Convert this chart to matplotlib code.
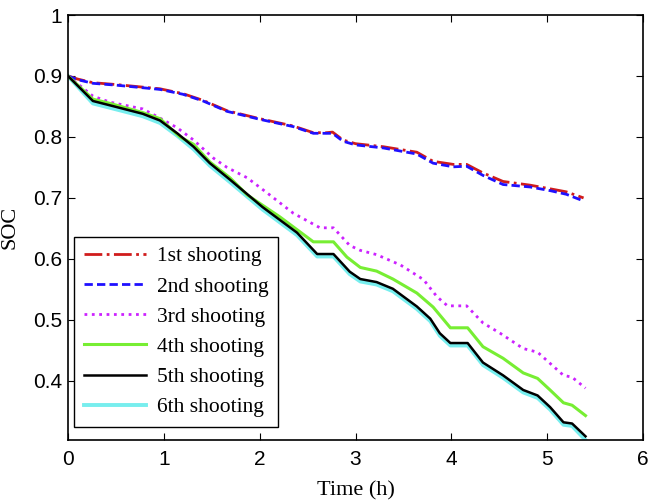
import numpy as np
import matplotlib.pyplot as plt

# SOC curves
t12 = [0, 0.1, 0.26, 0.5, 0.96, 1.2, 1.41, 1.66, 2.0, 2.35, 2.56, 2.70, 2.76, 2.87, 3.0,
       3.29, 3.64, 3.81, 4.02, 4.16, 4.33, 4.54, 4.82, 5.03, 5.2, 5.38]
soc1 = [0.9, 0.895, 0.889, 0.886, 0.879, 0.871, 0.86, 0.843, 0.83, 0.818, 0.807, 0.807, 0.808,
        0.795, 0.789, 0.784, 0.775, 0.76, 0.755, 0.755, 0.741, 0.727, 0.721, 0.715, 0.710, 0.700]
soc2 = [0.9, 0.894, 0.888, 0.885, 0.878, 0.870, 0.859, 0.842, 0.829, 0.817, 0.806, 0.806, 0.806,
        0.793, 0.787, 0.782, 0.772, 0.757, 0.751, 0.752, 0.737, 0.722, 0.718, 0.712, 0.706, 0.695]

t3 = [0, 0.26, 0.44, 0.78, 0.96, 1.14, 1.31, 1.52, 1.66, 1.87, 2.08, 2.35, 2.63, 2.77, 2.94,
      3.05, 3.22, 3.47, 3.71, 3.85, 3.96, 4.16, 4.33, 4.51, 4.75, 4.9, 5.17, 5.26, 5.4]
soc3 = [0.9, 0.867, 0.857, 0.846, 0.831, 0.815, 0.795, 0.765, 0.75, 0.733, 0.708, 0.675, 0.651,
        0.651, 0.622, 0.614, 0.607, 0.59, 0.566, 0.538, 0.523, 0.523, 0.495, 0.478, 0.453, 0.447,
        0.409, 0.406, 0.388]

t4 = [0, 0.26, 0.44, 0.78, 0.96, 1.17, 1.31, 1.48, 1.69, 1.87, 2.21, 2.56, 2.77, 2.91, 3.05,
      3.22, 3.39, 3.64, 3.81, 3.99, 4.17, 4.33, 4.54, 4.75, 4.9, 5.03, 5.17, 5.26, 5.4]
soc4 = [0.9, 0.862, 0.855, 0.84, 0.83, 0.80, 0.788, 0.759, 0.733, 0.705, 0.669, 0.628, 0.628,
        0.603, 0.586, 0.58, 0.567, 0.544, 0.521, 0.487, 0.487, 0.456, 0.437, 0.413, 0.404, 0.385,
        0.364, 0.36, 0.343]

t5 = [0, 0.26, 0.41, 0.78, 0.96, 1.14, 1.31, 1.48, 1.69, 2.03, 2.39, 2.6, 2.77, 2.94, 3.05,
      3.22, 3.39, 3.64, 3.78, 3.88, 3.99, 4.17, 4.33, 4.54, 4.75, 4.9, 5.03, 5.17, 5.26, 5.4]
soc5 = [0.9, 0.859, 0.853, 0.838, 0.827, 0.806, 0.784, 0.757, 0.73, 0.685, 0.643, 0.608, 0.608,
        0.579, 0.567, 0.562, 0.551, 0.522, 0.502, 0.478, 0.462, 0.462, 0.43, 0.409, 0.385, 0.376,
        0.357, 0.332, 0.33, 0.309]

t6 = t5
soc6 = [0.9, 0.855, 0.849, 0.834, 0.823, 0.802, 0.780, 0.753, 0.726, 0.681, 0.639, 0.604, 0.604,
        0.575, 0.563, 0.558, 0.547, 0.518, 0.498, 0.474, 0.458, 0.458, 0.426, 0.405, 0.381, 0.372,
        0.353, 0.328, 0.326, 0.303]

labels = ['1st shooting', '2nd shooting', '3rd shooting', '4th shooting', '5th shooting', '6th shooting']

fig = plt.figure(figsize=(6.52, 5.01), dpi=100)
ax = fig.add_axes([0.1043, 0.1218, 0.8819, 0.8482])

ax.plot(t12, soc1, color='#d01c1c', ls='-.', lw=2, label=labels[0])
ax.plot(t12, soc2, color='#1f10ff', ls='--', lw=2, dashes=(3, 1.5), label=labels[1])
ax.plot(t3, soc3, color='#cc22ff', ls=':', lw=2, label=labels[2])
ax.plot(t4, soc4, color='#77ee33', ls='-', lw=2.2, label=labels[3])
ax.plot(t5, soc5, color='black', ls='-', lw=1.8, label=labels[4])
ax.plot(t6, soc6, color='#77eeee', ls='-', lw=2.8, label=labels[5], zorder=1.9)

ax.set_xlim(0, 6)
ax.set_ylim(0.303, 1.0)
ax.set_xticks(range(7))
ax.set_yticks([0.4, 0.5, 0.6, 0.7, 0.8, 0.9, 1.0])
ax.set_yticklabels(['0.4', '0.5', '0.6', '0.7', '0.8', '0.9', '1'])
ax.tick_params(direction='in', top=True, right=True, length=5, labelsize=15,
               colors='black')
ax.tick_params(axis='x', pad=7)
ax.tick_params(axis='y', pad=4)
for lab in ax.get_xticklabels() + ax.get_yticklabels():
    lab.set_family('Liberation Sans')
for s in ax.spines.values():
    s.set_linewidth(1.2)

ax.set_xlabel('Time (h)', family='Liberation Serif', fontsize=16, labelpad=9)
ax.set_ylabel('SOC', family='Liberation Serif', fontsize=16, labelpad=10)

leg = ax.legend(loc='lower left', bbox_to_anchor=(0.0104, 0.0306), borderaxespad=0,
                prop={'family': 'Liberation Serif', 'size': 15.5}, handlelength=2.9,
                handletextpad=0.5, labelspacing=0.47, fancybox=False,
                edgecolor='black', framealpha=1, borderpad=0.45)
leg.get_frame().set_linewidth(1.0)

fig.savefig('out.png', dpi=100)
